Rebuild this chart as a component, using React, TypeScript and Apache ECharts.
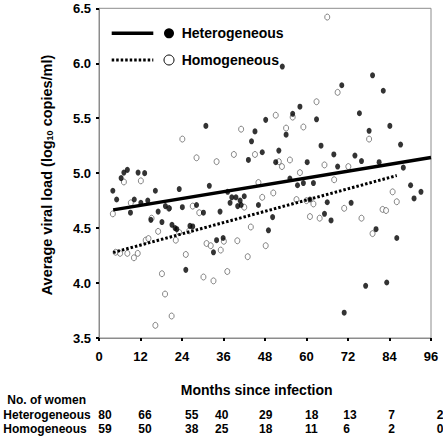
import React, { useEffect, useRef } from "react";
import * as echarts from "echarts";

// ---------- data ----------
const xTicks = [0, 12, 24, 36, 48, 60, 72, 84, 96];
const heteroCounts = [80, 66, 55, 40, 29, 18, 13, 7, 2];
const homoCounts = [59, 50, 38, 25, 18, 11, 6, 2, 0];

const heteroPoints: [number, number][] = [
  [4.0, 4.84], [5.1, 4.76], [6.4, 4.955], [7.2, 5.005], [8.2, 5.03], [11.3, 5.005], [13.2, 5.0],
  [10.2, 4.76], [12.1, 4.73], [14.1, 4.75], [16.3, 4.84], [23.2, 4.855], [9.1, 4.64], [17.1, 4.65],
  [19.2, 4.7], [20.3, 4.68], [24.1, 4.69], [28.2, 4.71], [30.2, 4.64], [31.9, 4.885], [30.9, 5.43],
  [15.0, 4.575], [18.2, 4.555], [21.1, 4.53], [22.0, 4.5], [22.5, 4.49], [26.3, 4.52], [27.1, 4.515],
  [25.1, 4.12], [33.1, 4.28], [34.0, 4.39], [35.9, 4.41], [35.0, 4.65], [37.2, 4.83], [38.4, 4.78],
  [39.6, 4.78], [40.8, 4.75], [42.0, 4.79], [37.9, 4.73], [40.1, 4.7], [41.1, 4.71], [46.1, 4.71],
  [44.1, 5.29], [47.2, 5.19], [43.2, 5.12], [52.0, 5.205], [51.1, 5.1], [60.2, 5.1], [57.4, 4.89],
  [59.1, 4.91], [62.0, 4.91], [61.0, 4.76], [50.2, 4.6], [49.0, 4.48], [53.0, 5.97], [48.2, 5.485],
  [45.1, 5.38], [54.1, 5.35], [56.0, 5.54], [58.1, 5.605], [62.9, 5.49], [55.2, 4.95], [70.2, 5.8],
  [79.1, 5.89], [82.2, 5.75], [75.3, 5.545], [84.1, 5.43], [78.1, 5.385], [64.2, 5.25], [87.2, 5.26],
  [67.9, 5.17], [74.0, 5.16], [75.9, 5.11], [69.0, 5.06], [81.0, 5.1], [88.0, 5.05], [90.1, 4.89],
  [93.1, 4.83], [91.1, 4.77], [66.0, 4.735], [72.9, 4.73], [65.2, 4.63], [67.1, 4.57], [80.1, 4.49],
  [86.1, 4.41], [77.1, 3.975], [83.2, 4.005], [70.9, 3.73],
];

const homoPoints: [number, number][] = [
  [24.1, 5.31], [28.2, 5.14], [7.2, 4.92], [12.1, 4.93], [9.2, 4.73], [4.0, 4.63], [20.2, 4.68],
  [27.1, 4.7], [29.0, 4.64], [15.2, 4.59], [17.1, 4.47], [13.5, 4.39], [14.3, 4.405], [23.2, 4.46],
  [26.1, 4.475], [22.2, 4.39], [4.8, 4.28], [6.1, 4.27], [8.2, 4.27], [10.1, 4.23], [11.2, 4.27],
  [25.1, 4.26], [31.1, 4.36], [32.3, 4.34], [35.2, 4.3], [36.1, 4.38], [18.2, 4.085], [30.2, 4.055],
  [33.1, 4.02], [37.1, 4.105], [19.1, 3.9], [21.0, 3.7], [16.3, 3.615], [40.0, 4.385], [39.0, 5.17],
  [34.0, 5.105], [45.1, 5.17], [52.0, 5.105], [52.9, 5.06], [55.2, 5.12], [58.1, 5.005], [46.1, 4.915],
  [50.4, 4.82], [47.2, 4.78], [42.0, 4.69], [57.1, 4.76], [60.0, 4.75], [62.0, 4.72], [61.0, 4.605],
  [43.9, 4.51], [48.2, 4.34], [43.0, 4.24], [51.1, 5.527], [41.1, 5.4], [54.1, 5.41], [56.0, 5.51],
  [59.1, 5.42], [62.9, 5.65], [66.0, 6.42], [69.0, 5.735], [78.1, 5.31], [65.2, 5.075], [72.1, 5.06],
  [68.0, 4.94], [84.9, 4.83], [86.1, 4.74], [70.9, 4.68], [82.0, 4.67], [83.0, 4.66], [63.8, 4.59],
  [75.9, 4.59], [79.1, 4.45],
];

const heteroFit: [number, number][] = [[4.1, 4.666], [96, 5.142]];
const homoFit: [number, number][] = [[4.1, 4.278], [86.1, 4.978]];

const rowLabels = ["Heterogeneous", "Homogeneous"];

// ---------- layout ----------
const FONT = "'Liberation Sans', Arial, Helvetica, sans-serif";
const tableColX = [98.3, 138.3, 185, 215, 259, 305, 343.3, 388.3, 436.7];

export default function App() {
  const ref = useRef<HTMLDivElement>(null);
  useEffect(() => {
    if (!ref.current) return;
    const chart = echarts.init(ref.current, null, { renderer: "svg" });

    const graphics: any[] = [
      // y-axis title
      {
        type: "text",
        x: 46.5,
        y: 175,
        rotation: Math.PI / 2,
        style: {
          text: "{a|Average viral load (log}{s|10}{a| copies/ml)}",
          align: "center",
          verticalAlign: "middle",
          rich: {
            a: { fontSize: 14.5, fontWeight: "bold", fontFamily: FONT, fill: "#000" },
            s: { fontSize: 9, fontWeight: "bold", fontFamily: FONT, fill: "#000", verticalAlign: "bottom", padding: [6, 0, 0, 0] },
          },
        },
      },
      // legend
      { type: "line", shape: { x1: 111.7, y1: 33.3, x2: 153.3, y2: 33.3 }, style: { stroke: "#000", lineWidth: 3.5 } },
      { type: "circle", shape: { cx: 169, cy: 33.3, r: 5 }, style: { fill: "#000" } },
      { type: "text", x: 181.7, y: 33.3, style: { text: "Heterogeneous", fontSize: 14, fontWeight: "bold", fontFamily: FONT, fill: "#000", verticalAlign: "middle" } },
      { type: "line", shape: { x1: 111.7, y1: 60, x2: 153.3, y2: 60 }, style: { stroke: "#000", lineWidth: 3, lineDash: [2.5, 2] } },
      { type: "circle", shape: { cx: 169, cy: 60, r: 5 }, style: { fill: "#fff", stroke: "#000", lineWidth: 1 } },
      { type: "text", x: 181.7, y: 60, style: { text: "Homogeneous", fontSize: 14, fontWeight: "bold", fontFamily: FONT, fill: "#000", verticalAlign: "middle" } },
      // table
      { type: "text", x: 256.7, y: 390, style: { text: "Months since infection", fontSize: 14, fontWeight: "bold", fontFamily: FONT, fill: "#000", align: "center", verticalAlign: "middle" } },
      { type: "text", x: 7.3, y: 400, style: { text: "No. of women", fontSize: 12, fontWeight: "bold", fontFamily: FONT, fill: "#000", verticalAlign: "middle" } },
    ];
    const rows = [heteroCounts, homoCounts];
    const rowY = [414.5, 428.5];
    rows.forEach((vals, r) => {
      graphics.push({ type: "text", x: 3.3, y: rowY[r], style: { text: rowLabels[r], fontSize: 12, fontWeight: "bold", fontFamily: FONT, fill: "#000", verticalAlign: "middle" } });
      vals.forEach((v, i) => {
        graphics.push({ type: "text", x: tableColX[i], y: rowY[r], style: { text: String(v), fontSize: 12, fontWeight: "bold", fontFamily: FONT, fill: "#000", verticalAlign: "middle" } });
      });
    });

    chart.setOption({
      animation: false,
      backgroundColor: "#fff",
      grid: { left: 99, right: 12, top: 8.3, bottom: 100, show: true, borderColor: "#8c8c8c", borderWidth: 1, containLabel: false },
      xAxis: {
        type: "value",
        min: 0,
        max: 96,
        interval: 12,
        axisLine: { show: true, lineStyle: { color: "#8c8c8c", width: 1 } },
        axisTick: { show: true, length: 3, lineStyle: { color: "#000", width: 2 } },
        splitLine: { show: false },
        axisLabel: { margin: 12, fontSize: 13, fontWeight: "bold", fontFamily: FONT, color: "#000", formatter: (v: number) => (xTicks.includes(v) ? String(v) : "") },
      },
      yAxis: {
        type: "value",
        min: 3.5,
        max: 6.5,
        interval: 0.5,
        axisLine: { show: true, lineStyle: { color: "#8c8c8c", width: 1 } },
        axisTick: { show: true, length: 3, lineStyle: { color: "#000", width: 2 } },
        splitLine: { show: false },
        axisLabel: { margin: 8, fontSize: 13, fontWeight: "bold", fontFamily: FONT, color: "#000", formatter: (v: number) => v.toFixed(1) },
      },
      series: [
        {
          type: "scatter",
          data: homoPoints,
          symbol: "circle",
          symbolSize: [5, 6],
          itemStyle: { color: "#fff", borderColor: "#444", borderWidth: 0.8 },
          z: 2,
        },
        {
          type: "scatter",
          data: heteroPoints,
          symbol: "circle",
          symbolSize: [5, 6],
          itemStyle: { color: "#000" },
          z: 3,
        },
        {
          type: "line",
          data: heteroFit,
          showSymbol: false,
          lineStyle: { color: "#000", width: 3.5, type: "solid" },
          z: 4,
        },
        {
          type: "line",
          data: homoFit,
          showSymbol: false,
          lineStyle: { color: "#000", width: 3, type: [2.5, 2] },
          z: 4,
        },
      ],
      graphic: graphics,
    });
    return () => chart.dispose();
  }, []);

  return (
    <div
      ref={ref}
      style={{ position: "absolute", left: 0, top: 0, width: 443, height: 438, background: "#fff" }}
    />
  );
}
